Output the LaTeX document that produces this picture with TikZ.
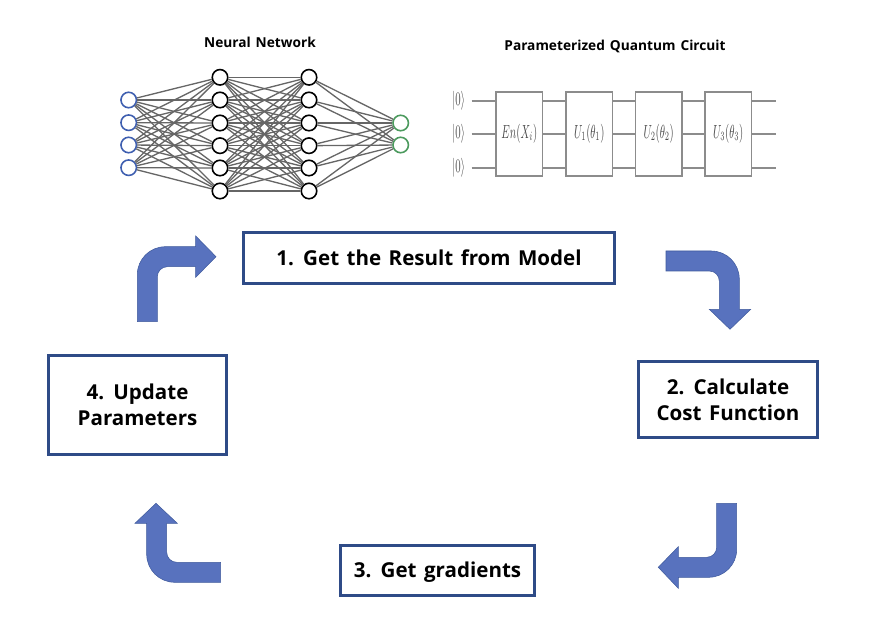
\documentclass[tikz,border=0pt]{standalone}
\usepackage{amsmath,amssymb}
\usepackage{graphicx}
\usepackage{xcolor}
\usepackage{fontspec}
\setmainfont{Open Sans}[WordSpace=1.4]
\usetikzlibrary{positioning}
\definecolor{boxblue}{HTML}{2F4B87}
\definecolor{arrowblue}{HTML}{5872BE}
\definecolor{arrowedge}{HTML}{3F5A9C}
\definecolor{inblue}{HTML}{3F5FB0}
\definecolor{outgreen}{HTML}{4C9A5E}
\definecolor{gategray}{HTML}{8C8C8C}
\newcommand{\thinmath}[1]{\scalebox{0.66}[1.2]{$#1$}}

\begin{document}
\begin{tikzpicture}[
    x=0.02cm, y=-0.02cm,
    stepbox/.style={rectangle, draw=boxblue, line width=0.06cm, fill=white, align=center, font=\fontsize{11.7}{15}\selectfont\bfseries, inner sep=0pt},
    bendarrow/.style={fill=arrowblue, draw=arrowedge, line width=0.3pt},
    neuron/.style={circle, draw=black, line width=0.9pt, fill=white, minimum size=0.31cm, inner sep=0pt},
    inneuron/.style={neuron, draw=inblue},
    outneuron/.style={neuron, draw=outgreen},
    synapse/.style={black!60, line width=0.75pt},
    gatebox/.style={rectangle, draw=gategray, line width=0.9pt, fill=white, text=black!70, minimum width=0.93cm, minimum height=1.67cm, inner sep=0pt, font=\small},
    ketlabel/.style={text=black!70, minimum width=0.52cm, inner sep=0pt, outer sep=0pt, font=\small},
    wire/.style={gategray, line width=1pt},
    heading/.style={font=\fontsize{7.8}{10}\selectfont\bfseries, inner sep=0pt}
]
    \useasboundingbox (0, 0) rectangle (896, 631);

    \node[heading] (nntitle) at (260, 42) {Neural Network};
    \node[heading] (pqctitle) at (615, 46) {Parameterized Quantum Circuit};

    % neural network
    \foreach \n/\y in {1/100, 2/122.7, 3/145, 4/167.7}
        \node[inneuron] (inp\n) at (128.7, \y) {};
    \foreach \n/\y in {1/77.3, 2/100, 3/123, 4/145.7, 5/168, 6/191} {
        \node[neuron] (hida\n) at (220, \y) {};
        \node[neuron] (hidb\n) at (309, \y) {};
    }
    \node[outneuron] (out1) at (400.7, 123) {};
    \node[outneuron] (out2) at (400.7, 145) {};

    \foreach \a in {1,...,6} {
        \foreach \b in {1,...,4}
            \draw[synapse] (inp\b) -- (hida\a);
        \foreach \b in {1,...,6}
            \draw[synapse] (hida\a) -- (hidb\b);
        \foreach \b in {1,2}
            \draw[synapse] (hidb\a) -- (out\b);
    }

    % circuit
    \foreach \n/\y in {1/100.7, 2/134, 3/167.7} {
        \node[ketlabel] (ket\n) at (458.7, \y) {\thinmath{|0\rangle}};
        \coordinate (wireend\n) at (775.7, \y);
        \draw[wire] (ket\n) -- (wireend\n);
    }
    \node[gatebox] (enc) at (519.3, 134) {\thinmath{En(X_i)}};
    \node[gatebox] (uone) at (589.3, 134) {\thinmath{U_1(\theta_1)}};
    \node[gatebox] (utwo) at (658.7, 134) {\thinmath{U_2(\theta_2)}};
    \node[gatebox] (uthree) at (728.2, 134) {\thinmath{U_3(\theta_3)}};

    % steps
    \node[stepbox, minimum width=7.44cm, minimum height=1.04cm] (result) at (429, 258) {1. Get the Result from Model};
    \node[stepbox, minimum width=3.6cm, minimum height=1.54cm] (cost) at (728, 399.5) {2. Calculate\\Cost Function};
    \node[stepbox, minimum width=3.9cm, minimum height=1.02cm] (grad) at (437.5, 570.5) {\raisebox{-1.1pt}[\height][\depth]{3. Get gradients}};
    \node[stepbox, minimum width=3.58cm, minimum height=2cm] (update) at (137.5, 405) {4. Update\\Parameters};

    % bent arrows
    \draw[bendarrow] (137.3, 321.7) [rounded corners=0.56cm] -- (137.3, 246.7) [sharp corners] -- (195.7, 246.7) -- (195.7, 236) -- (216, 256.7) -- (195.7, 277.3) -- (195.7, 266.7) [rounded corners=0.2cm] -- (157.3, 266.7) [sharp corners] -- (157.3, 321.7) -- cycle;
    \draw[bendarrow] (666, 251) [rounded corners=0.56cm] -- (739.3, 251) [sharp corners] -- (739.3, 309.3) -- (750.7, 309.3) -- (730, 329.3) -- (709.3, 309.3) -- (719.3, 309.3) [rounded corners=0.2cm] -- (719.3, 271) [sharp corners] -- (666, 271) -- cycle;
    \draw[bendarrow] (736.7, 503.3) [rounded corners=0.56cm] -- (736.7, 577.3) [sharp corners] -- (678.3, 577.3) -- (678.3, 588.3) -- (658.3, 567.3) -- (678.3, 546.7) -- (678.3, 557.3) [rounded corners=0.2cm] -- (716.7, 557.3) [sharp corners] -- (716.7, 503.3) -- cycle;
    \draw[bendarrow] (220.7, 582.3) [rounded corners=0.56cm] -- (146.7, 582.3) [sharp corners] -- (146.7, 523.3) -- (135, 523.3) -- (156, 503.3) -- (177.3, 523.3) -- (166.7, 523.3) [rounded corners=0.2cm] -- (166.7, 562.3) [sharp corners] -- (220.7, 562.3) -- cycle;
\end{tikzpicture}
\end{document}
